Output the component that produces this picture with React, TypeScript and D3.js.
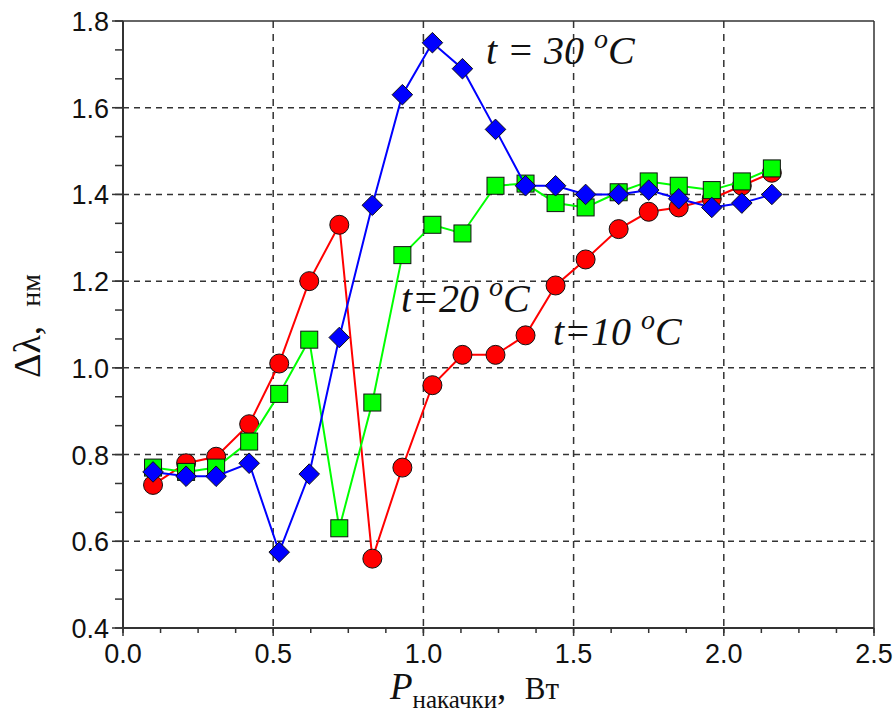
import React from "react";
import * as d3 from "d3";

const power = [0.10, 0.21, 0.31, 0.42, 0.52, 0.62, 0.72, 0.83, 0.93, 1.03, 1.13, 1.24, 1.34, 1.44, 1.54, 1.65, 1.75, 1.85, 1.96, 2.06, 2.16];
const t10 = [0.73, 0.78, 0.795, 0.87, 1.01, 1.20, 1.33, 0.56, 0.77, 0.96, 1.03, 1.03, 1.075, 1.19, 1.25, 1.32, 1.36, 1.37, 1.39, 1.42, 1.45];
const t20 = [0.77, 0.76, 0.77, 0.83, 0.94, 1.065, 0.63, 0.92, 1.26, 1.33, 1.31, 1.42, 1.425, 1.38, 1.37, 1.405, 1.43, 1.42, 1.41, 1.43, 1.46];
const t30 = [0.76, 0.75, 0.75, 0.78, 0.575, 0.755, 1.07, 1.375, 1.63, 1.75, 1.69, 1.55, 1.42, 1.42, 1.40, 1.40, 1.41, 1.39, 1.37, 1.38, 1.40];
const xTicks = [0.0, 0.5, 1.0, 1.5, 2.0, 2.5];
const yTicks = [0.4, 0.6, 0.8, 1.0, 1.2, 1.4, 1.6, 1.8];

const W = 895, H = 715;
const L = 123, R = 874, T = 21, B = 628;

export default function App() {
  const x = d3.scaleLinear().domain([0, 2.5]).range([L, R]);
  const y = d3.scaleLinear().domain([0.4, 1.8]).range([B, T]);
  const line = (vals: number[]) =>
    d3.line<number>().x((_, i) => x(power[i])).y((v) => y(v))(vals) || "";

  const xMinor: number[] = [];
  for (let v = 0; v <= 2.5001; v += 0.125) xMinor.push(+v.toFixed(4));
  const yMinor: number[] = [];
  for (let i = 0; i <= 21; i++) yMinor.push(0.4 + (i * 0.2) / 3);

  const axisColor = "#333";
  const serif = "'Liberation Serif', 'DejaVu Serif', serif";
  const cyr = "'Liberation Serif', 'DejaVu Serif', serif";
  const sans = "'Liberation Sans', Arial, sans-serif";

  const diamond = d3.symbol().type(d3.symbolDiamond2).size(270)() || "";

  const Label = ({ x0, y0, pre }: { x0: number; y0: number; pre: string }) => (
    <text x={x0} y={y0} fontFamily={serif} fontStyle="italic" fontSize={40} fill="#111" style={{ whiteSpace: "pre" }}>
      {pre}
      <tspan dy={-16} fontSize={28}>o</tspan>
      <tspan dy={16}>C</tspan>
    </text>
  );

  return (
    <svg width={W} height={H} style={{ position: "absolute", left: 0, top: 0, background: "#fff" }}>
      {/* grid */}
      {yTicks.filter((v) => v > 0.4 && v < 1.8).map((v) => (
        <line key={"gy" + v} x1={L} x2={R} y1={y(v)} y2={y(v)} stroke={axisColor} strokeWidth={1.5} strokeDasharray="6,5" />
      ))}
      {xTicks.filter((v) => v > 0 && v < 2.5).map((v) => (
        <line key={"gx" + v} x1={x(v)} x2={x(v)} y1={T} y2={B} stroke={axisColor} strokeWidth={1.5} strokeDasharray="7,6" />
      ))}
      {/* frame */}
      <line x1={L} x2={R} y1={T} y2={T} stroke={axisColor} strokeWidth={1.5} />
      <line x1={R} x2={R} y1={T} y2={B} stroke={axisColor} strokeWidth={1.5} />
      <line x1={L} x2={R} y1={B} y2={B} stroke={axisColor} strokeWidth={2} />
      <line x1={L} x2={L} y1={T} y2={B} stroke={axisColor} strokeWidth={2} />
      {/* ticks */}
      {xMinor.map((v) => (
        <line key={"xm" + v} x1={x(v)} x2={x(v)} y1={B} y2={B + 5} stroke={axisColor} strokeWidth={1.5} />
      ))}
      {xTicks.map((v) => (
        <line key={"xM" + v} x1={x(v)} x2={x(v)} y1={B} y2={B + 8} stroke={axisColor} strokeWidth={1.5} />
      ))}
      {yMinor.map((v, i) => (
        <line key={"ym" + i} x1={L - 8} x2={L} y1={y(v)} y2={y(v)} stroke={axisColor} strokeWidth={1.5} />
      ))}
      {yTicks.map((v) => (
        <line key={"yM" + v} x1={L - 11} x2={L} y1={y(v)} y2={y(v)} stroke={axisColor} strokeWidth={1.5} />
      ))}
      {/* tick labels */}
      {yTicks.map((v) => (
        <text key={"yl" + v} x={L - 14} y={y(v) + 10} textAnchor="end" fontFamily={sans} fontSize={27} fill="#111">
          {v.toFixed(1)}
        </text>
      ))}
      {xTicks.map((v) => (
        <text key={"xl" + v} x={x(v)} y={B + 35} textAnchor="middle" fontFamily={sans} fontSize={27} fill="#111">
          {v.toFixed(1)}
        </text>
      ))}
      {/* series */}
      <path d={line(t10)} fill="none" stroke="#ff0000" strokeWidth={2} />
      {t10.map((v, i) => (
        <circle key={"r" + i} cx={x(power[i])} cy={y(v)} r={9.5} fill="#ff0000" stroke="#111" strokeWidth={1} />
      ))}
      <path d={line(t20)} fill="none" stroke="#00ff00" strokeWidth={2} />
      {t20.map((v, i) => (
        <rect key={"g" + i} x={x(power[i]) - 8.5} y={y(v) - 8.5} width={17} height={17} fill="#00ff00" stroke="#111" strokeWidth={1} />
      ))}
      <path d={line(t30)} fill="none" stroke="#0000ff" strokeWidth={2} />
      {t30.map((v, i) => (
        <path key={"b" + i} d={diamond} transform={`translate(${x(power[i])},${y(v)})`} fill="#0000ff" stroke="#111" strokeWidth={1} />
      ))}
      {/* annotations */}
      <Label x0={486} y0={64} pre={"t = 30 "} />
      <Label x0={401} y0={312} pre={"t=20 "} />
      <Label x0={553} y0={345} pre={"t=10 "} />
      {/* axis titles */}
      <text transform={`translate(40,326) rotate(-90)`} textAnchor="middle" fontFamily={serif} fontSize={38} fill="#111" style={{ whiteSpace: "pre" }}>
        {"Δλ,  "}<tspan fontFamily={cyr} fontSize={28}>нм</tspan>
      </text>
      <text x={390} y={699} fontFamily={serif} fontSize={37} fill="#111" style={{ whiteSpace: "pre" }}>
        <tspan fontStyle="italic">P</tspan>
        <tspan dy={9} fontFamily={cyr} fontSize={25}>накачки</tspan>
        <tspan dy={-9}>{",  "}</tspan>
        <tspan fontFamily={cyr} fontSize={31}>Вт</tspan>
      </text>
    </svg>
  );
}
